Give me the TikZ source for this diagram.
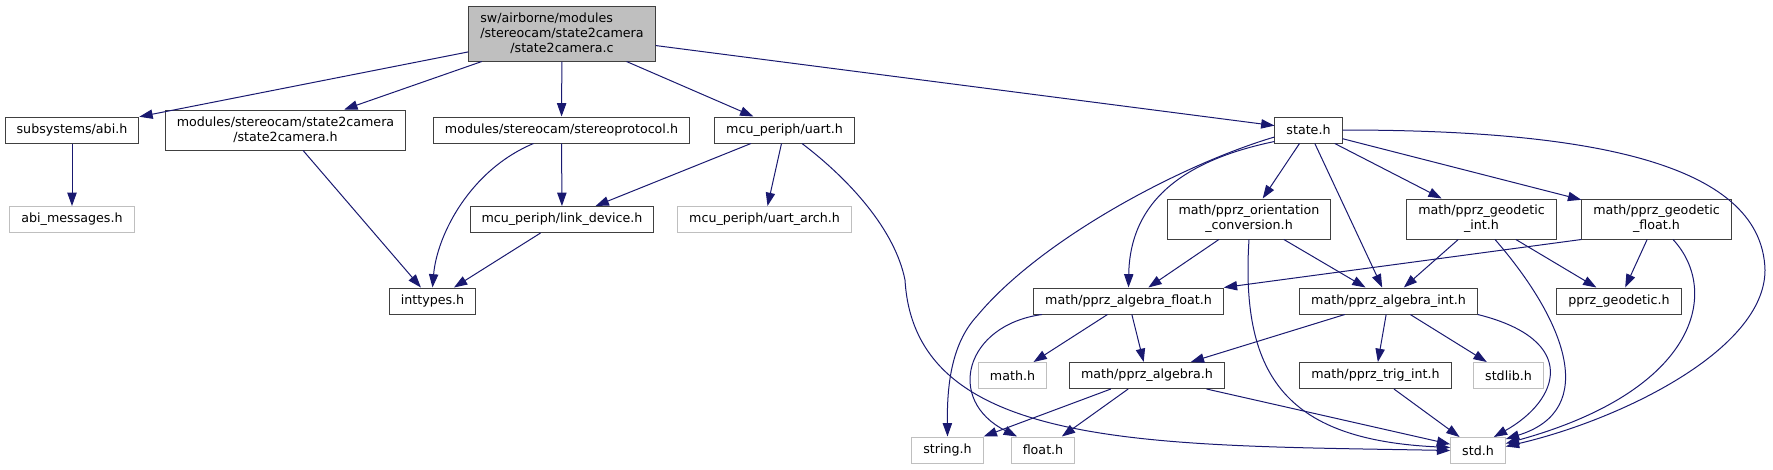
\documentclass[tikz,border=0pt]{standalone}
\usepackage{fontspec}
\setmainfont{DejaVu Sans}
\usepackage{calc}
\usetikzlibrary{arrows.meta,calc}
\definecolor{edgeblue}{HTML}{191970}
\definecolor{boxline}{HTML}{404040}
\definecolor{greyline}{HTML}{BFBFBF}
\definecolor{rootfill}{HTML}{BFBFBF}

\begin{document}
\begin{tikzpicture}[x=0.75pt, y=-0.75pt,
  hfile/.style={draw=boxline, line width=0.75pt, fill=white, inner xsep=8.6pt, inner ysep=2pt,
    minimum height=19.5pt, align=center, font=\fontsize{9.5}{11.25}\selectfont},
  hfiletwo/.style={hfile, minimum height=30pt},
  extfile/.style={hfile, draw=greyline},
  dep/.style={draw=edgeblue, line width=0.75pt, -{Triangle[length=10pt,width=7pt]}}]
\useasboundingbox (0,0) rectangle (1773,469);

% source file
\node[hfile, fill=rootfill, minimum height=41.25pt] (root) at (562,33.5)
  {\makebox[\widthof{/stereocam/state2camera}][l]{sw/airborne/modules}\\/stereocam/state2camera\\/state2camera.c};

% first row
\node[hfile] (abi) at (72,130) {subsystems/abi.h};
\node[hfiletwo] (scam) at (285.5,130) {modules/stereocam/state2camera\\/state2camera.h};
\node[hfile] (sproto) at (561.5,130) {modules/stereocam/stereoprotocol.h};
\node[hfile] (uart) at (784.5,130) {mcu\_periph/uart.h};
\node[hfile] (state) at (1308.5,130) {state.h};

% second row
\node[extfile] (abimsg) at (72,219.5) {abi\_messages.h};
\node[hfile] (linkdev) at (562,219.5) {mcu\_periph/link\_device.h};
\node[extfile] (uartarch) at (764.5,219.5) {mcu\_periph/uart\_arch.h};
\node[hfiletwo] (orient) at (1249,219) {math/pprz\_orientation\\\_conversion.h};
\node[hfiletwo] (geoint) at (1481.5,219) {math/pprz\_geodetic\\\_int.h};
\node[hfiletwo] (geofloat) at (1656.5,219) {math/pprz\_geodetic\\\_float.h};

% third row
\node[hfile] (inttypes) at (432.5,301) {inttypes.h};
\node[hfile] (algfloat) at (1128.5,301) {math/pprz\_algebra\_float.h};
\node[hfile] (algint) at (1388.5,301) {math/pprz\_algebra\_int.h};
\node[hfile] (geodetic) at (1619,301) {pprz\_geodetic.h};

% fourth row
\node[extfile] (mathh) at (1012.5,375.5) {math.h};
\node[hfile] (algebra) at (1147,375.5) {math/pprz\_algebra.h};
\node[hfile] (trigint) at (1375.5,375.5) {math/pprz\_trig\_int.h};
\node[extfile] (stdlib) at (1508.5,375.5) {stdlib.h};

% bottom row
\node[extfile] (stringh) at (947.5,450) {string.h};
\node[extfile] (floath) at (1043,450) {float.h};
\node[extfile] (stdh) at (1478,450.5) {std.h};

% straight includes
\foreach \a/\b in {root/abi, root/scam, root/sproto, root/uart, root/state,
    abi/abimsg, scam/inttypes, sproto/linkdev, uart/linkdev, uart/uartarch, linkdev/inttypes,
    state/orient, state/algint, state/geoint, state/geofloat,
    orient/algfloat, orient/algint, geoint/algint, geoint/geodetic, geofloat/geodetic,
    algfloat/mathh, algfloat/algebra, algint/algebra, algint/trigint, algint/stdlib,
    algebra/stringh, algebra/floath, algebra/stdh, trigint/stdh}
  \draw[dep] (\a) -- (\b);
\draw[dep] (geofloat.south west) -- (algfloat.north east);

% curved includes
\draw[dep] ($(sproto.south)+(-28,0)$) .. controls (470,170) and (437,235) .. (inttypes.north);
\draw[dep] ($(uart.south)+(17.5,0)$) .. controls (850,180) and (895,230) .. (905,280)
  .. controls (915,450) and (1150,445) .. (stdh.west);
\draw[dep] ($(state.west)+(0,7)$) .. controls (1180,165) and (1040,240) .. (977,316)
  .. controls (950,345) and (947,390) .. (stringh.north);
\draw[dep] ($(state.south west)+(0,-2)$) .. controls (1185,160) and (1130,200) .. (algfloat.north);
\draw[dep] (state.east) .. controls (1580,130) and (1762,160) .. (1765,270)
  .. controls (1765,350) and (1620,420) .. ($(stdh.east)+(0,-4)$);
\draw[dep] (orient.south) .. controls (1240,380) and (1290,440) .. ($(stdh.west)+(0,-3)$);
\draw[dep] ($(geoint.south)+(13.5,0)$) .. controls (1565,320) and (1600,410) .. ($(stdh.north east)+(0,2)$);
\draw[dep] ($(geofloat.south)+(16.5,0)$) .. controls (1720,290) and (1700,390) .. ($(stdh.east)+(0,-7)$);
\draw[dep] ($(algfloat.south)+(-86.5,0)$) .. controls (965,325) and (945,400) .. ($(floath.north)+(-26,0)$);
\draw[dep] (algint.south east) .. controls (1580,340) and (1560,400) .. ($(stdh.north east)+(-12,0)$);
\end{tikzpicture}
\end{document}
